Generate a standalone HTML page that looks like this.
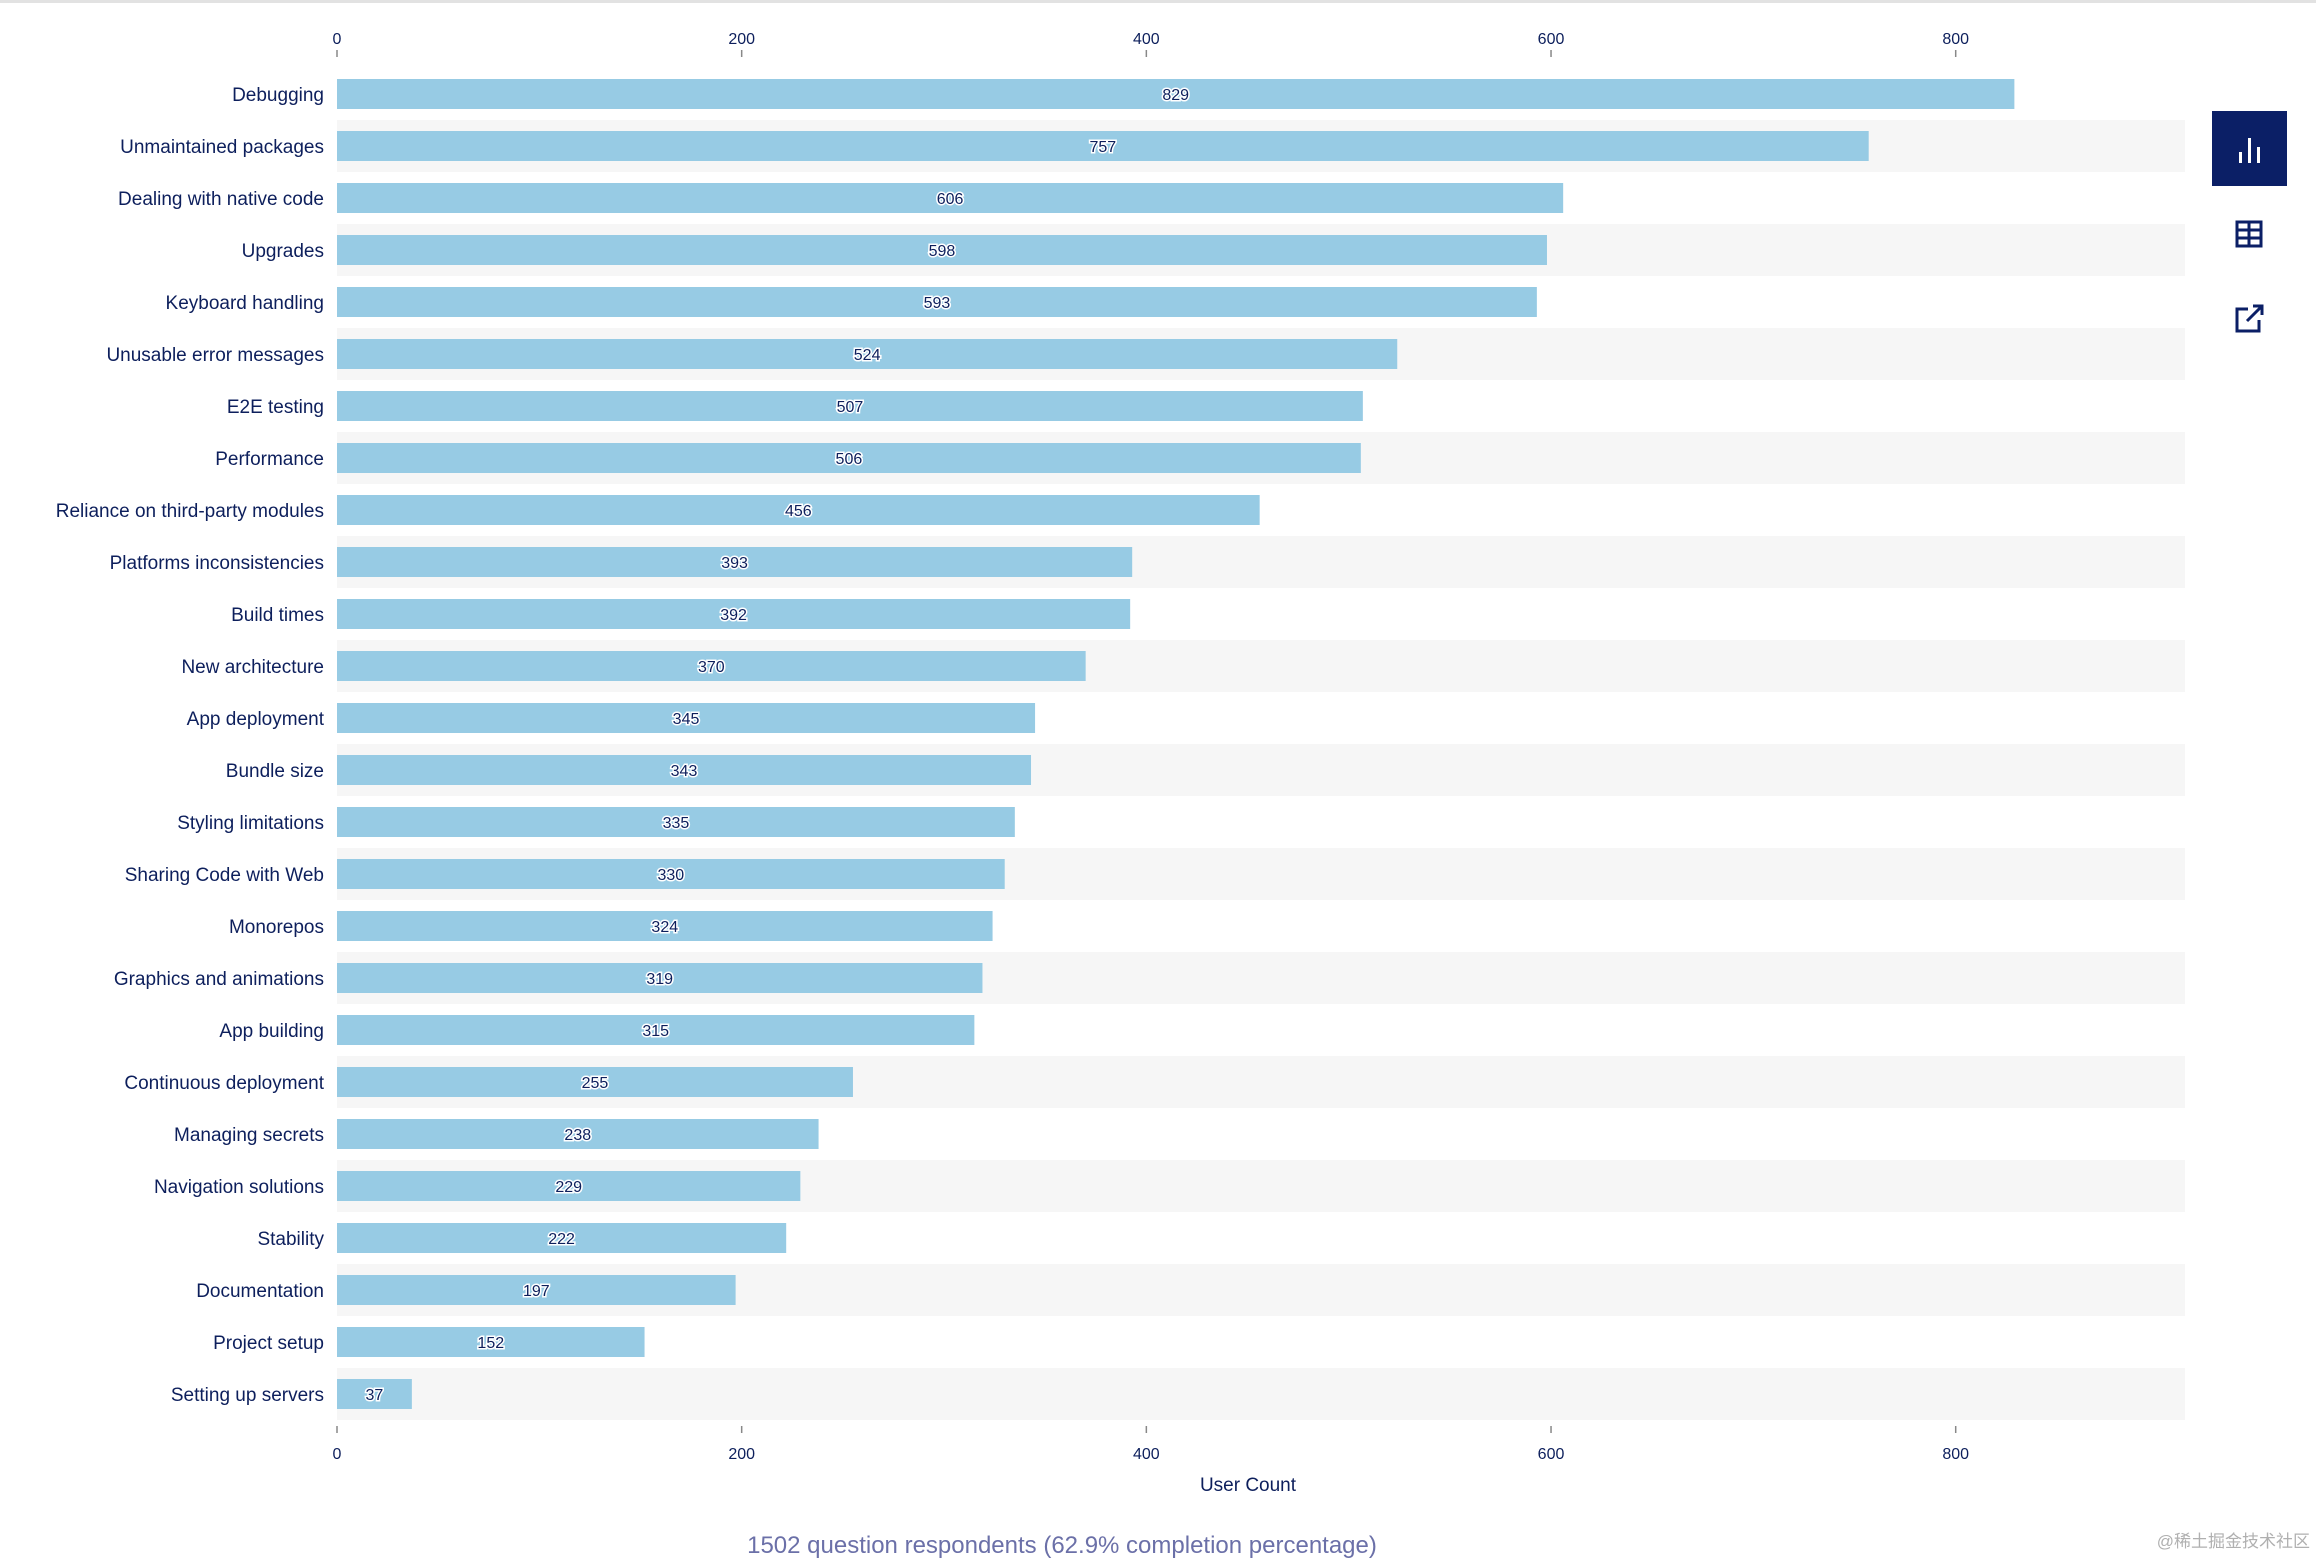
<!DOCTYPE html>
<html><head><meta charset="utf-8"><style>
html,body{margin:0;padding:0;background:#fff;}
body{width:2316px;height:1558px;overflow:hidden;position:relative;font-family:"Liberation Sans","Noto Sans CJK SC",sans-serif;}
svg text{font-family:"Liberation Sans","Noto Sans CJK SC",sans-serif;}
</style></head><body>
<svg id="chart" width="2316" height="1558" xmlns="http://www.w3.org/2000/svg">
<rect x="0" y="0" width="2316" height="3" fill="#e2e2e2"/>
<g id="bands"></g><g id="bars"></g><g id="axes"></g>
<text x="1248" y="1491" font-size="19" fill="#0d1f5c" text-anchor="middle">User Count</text>
<text x="1062" y="1553" font-size="24" fill="#6b70a8" text-anchor="middle">1502 question respondents (62.9% completion percentage)</text>
<text x="2310" y="1547" font-size="17" fill="#b0b0b0" text-anchor="end">@稀土掘金技术社区</text>
<g>
<rect x="2212" y="111" width="75" height="75" fill="#0b1f66"/>
<rect x="2239" y="152" width="3" height="11" fill="#fff"/><rect x="2248" y="138" width="3" height="25" fill="#fff"/><rect x="2257" y="147" width="3" height="16" fill="#fff"/>
</g>
<g fill="none" stroke="#0b1f66" stroke-width="3">
<rect x="2237" y="222" width="24" height="24"/><line x1="2237" y1="230" x2="2261" y2="230"/><line x1="2237" y1="238" x2="2261" y2="238"/><line x1="2249" y1="222" x2="2249" y2="246"/>
</g>
<g fill="none" stroke="#0b1f66" stroke-width="3">
<path d="M2248 309 H2237 V331 H2259 V320"/><path d="M2247 321 L2262 306 M2253 306 H2262 V315"/>
</g>
</svg>
<script>
const categories=["Debugging","Unmaintained packages","Dealing with native code","Upgrades","Keyboard handling","Unusable error messages","E2E testing","Performance","Reliance on third-party modules","Platforms inconsistencies","Build times","New architecture","App deployment","Bundle size","Styling limitations","Sharing Code with Web","Monorepos","Graphics and animations","App building","Continuous deployment","Managing secrets","Navigation solutions","Stability","Documentation","Project setup","Setting up servers"];
const values=[829,757,606,598,593,524,507,506,456,393,392,370,345,343,335,330,324,319,315,255,238,229,222,197,152,37];
const ticks=[0,200,400,600,800];
const NS="http://www.w3.org/2000/svg";
const x0=337,pxPerUnit=(1955.7-337)/800,rowTop=68,rowH=52,barH=30;
const xs=v=>x0+v*pxPerUnit;
const yc=i=>rowTop+rowH*i+rowH/2;
function mk(t,a,p){const e=document.createElementNS(NS,t);for(const k in a)e.setAttribute(k,a[k]);p.appendChild(e);return e;}
const bands=document.getElementById('bands'),bars=document.getElementById('bars'),axes=document.getElementById('axes');
categories.forEach((c,i)=>{
 if(i%2===1){const b=mk('rect',{x:x0,y:yc(i)-rowH/2,width:2185-x0,height:rowH,fill:'#f6f6f6'},bands);
 
 }
 const r=mk('rect',{x:x0,y:yc(i)-barH/2,width:xs(values[i])-x0,height:barH,fill:'#97cbe4'},bars);
 
 
 const l=mk('text',{x:324,y:yc(i)+7,'font-size':19,fill:'#0d1f5c','text-anchor':'end'},axes);l.textContent=c;
 
 
 const v=mk('text',{x:(x0+xs(values[i]))/2,y:yc(i)+6,'font-size':16,fill:'#0d1f5c','text-anchor':'middle',stroke:'#fff','stroke-width':3,'paint-order':'stroke'},bars);v.textContent=values[i];
 
 
});
ticks.forEach(t=>{
 [[38,50,57],[1453,1426,1433]].forEach(([ty,a,b])=>{
  const tk=mk('line',{x1:xs(t),x2:xs(t),y1:a,y2:b,stroke:'#888','stroke-width':1.5},axes);
  
  
  const tl=mk('text',{x:xs(t),y:ty+6,'font-size':16,fill:'#0d1f5c','text-anchor':'middle'},axes);tl.textContent=t;
  
  
 });
});
</script>
</body></html>
